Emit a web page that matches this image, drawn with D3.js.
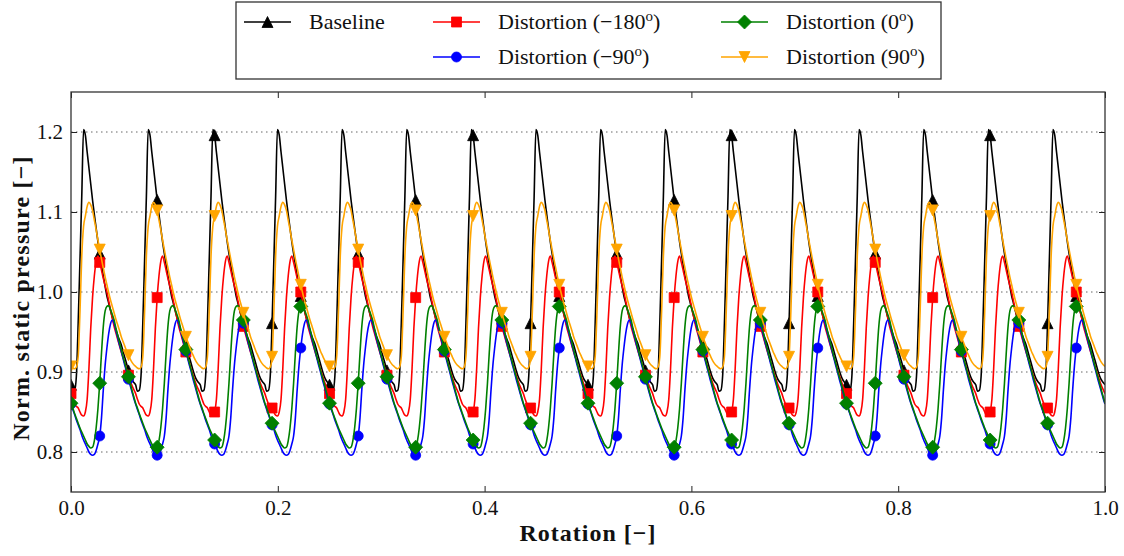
<!DOCTYPE html>
<html>
<head>
<meta charset="utf-8">
<script src="https://cdn.jsdelivr.net/npm/d3@7"></script>
<style>
  body { margin: 0; background: #fff; }
  text { font-family: "Liberation Serif", "DejaVu Serif", serif; fill: #111; }
</style>
</head>
<body>
<script>
// one blade passage (36 samples); 16 passages per rotation
var nPassages = 16;
var markEvery = 16;   // one marker every 1/36 rotation

var baselinePassage = [0.884, 0.876, 0.877, 0.895, 0.961, 1.040, 1.120, 1.203, 1.196, 1.175, 1.155, 1.135,
  1.115, 1.097, 1.080, 1.063, 1.048, 1.034, 1.020, 1.007, 0.995, 0.986, 0.977, 0.968,
  0.960, 0.953, 0.946, 0.940, 0.934, 0.926, 0.918, 0.910, 0.902, 0.895, 0.890, 0.887];
var m180Passage = [0.873, 0.866, 0.860, 0.857, 0.855, 0.850, 0.846, 0.845, 0.850, 0.866, 0.905, 0.955,
  0.993, 1.020, 1.038, 1.045, 1.037, 1.027, 1.017, 1.008, 1.000, 0.989, 0.978, 0.968,
  0.957, 0.949, 0.941, 0.933, 0.925, 0.918, 0.911, 0.903, 0.896, 0.889, 0.883, 0.878];
var m90Passage = [0.860, 0.853, 0.847, 0.840, 0.834, 0.828, 0.821, 0.815, 0.810, 0.805, 0.800, 0.797,
  0.796, 0.797, 0.802, 0.810, 0.820, 0.843, 0.878, 0.908, 0.930, 0.948, 0.960, 0.965,
  0.961, 0.952, 0.943, 0.934, 0.926, 0.917, 0.908, 0.900, 0.891, 0.883, 0.875, 0.867];
var p0Passage = [0.861, 0.855, 0.848, 0.842, 0.836, 0.830, 0.825, 0.820, 0.815, 0.810, 0.807, 0.805,
  0.806, 0.814, 0.830, 0.854, 0.886, 0.924, 0.957, 0.976, 0.982, 0.983, 0.978, 0.972,
  0.965, 0.955, 0.946, 0.937, 0.928, 0.919, 0.911, 0.902, 0.894, 0.886, 0.877, 0.869];
var p90Passage = [0.907, 0.905, 0.904, 0.906, 0.919, 0.975, 1.045, 1.082, 1.095, 1.107, 1.112, 1.109,
  1.102, 1.090, 1.078, 1.065, 1.053, 1.041, 1.030, 1.019, 1.009, 0.999, 0.990, 0.982,
  0.974, 0.966, 0.959, 0.952, 0.944, 0.938, 0.932, 0.926, 0.921, 0.916, 0.912, 0.909];

var xTicks = [0, 0.2, 0.4, 0.6, 0.8, 1.0];
var yTicks = [0.8, 0.9, 1.0, 1.1, 1.2];

var seriesList = [
  {name: "Baseline", deg: null, passage: baselinePassage, color: "#000000", marker: "triUp"},
  {name: "Distortion", deg: "\u2212180", passage: m180Passage, color: "#ff0000", marker: "square"},
  {name: "Distortion", deg: "\u221290", passage: m90Passage, color: "#0000ff", marker: "circle"},
  {name: "Distortion", deg: "0", passage: p0Passage, color: "#008000", marker: "diamond"},
  {name: "Distortion", deg: "90", passage: p90Passage, color: "#ffa500", marker: "triDown"}
];

var margin = {top: 92, right: 19, bottom: 64, left: 71},
  width = 1124 - margin.left - margin.right,
  height = 556 - margin.top - margin.bottom;

var x = d3.scaleLinear().domain([0, 1]).range([0, width]);
var y = d3.scaleLinear().domain([0.75, 1.25]).range([height, 0]);

function buildPoints(passage) {
  var n = passage.length, total = n * nPassages, pts = [];
  for (var i = 0; i <= total; i++) {
    pts.push({i: i, r: i / total, v: passage[i % n]});
  }
  return pts;
}

var markerPaths = {
  triUp: "M0,-5.5L5.5,5.5L-5.5,5.5Z",
  triDown: "M0,5.5L5.5,-5.5L-5.5,-5.5Z",
  square: "M-5,-5L5,-5L5,5L-5,5Z",
  diamond: "M0,-7L7,0L0,7L-7,0Z",
  circle: d3.symbol().type(d3.symbolCircle).size(Math.PI * 25)()
};

var svg = d3.select("body").append("svg")
  .attr("width", 1124)
  .attr("height", 556);

var g = svg.append("g")
  .attr("transform", "translate(" + margin.left + "," + margin.top + ")");

g.append("clipPath").attr("id", "plotClip")
  .append("rect").attr("width", width).attr("height", height);

// dotted horizontal grid
g.selectAll(".grid").data(yTicks).enter().append("line")
  .attr("x1", 0).attr("x2", width)
  .attr("y1", function (d) { return y(d); })
  .attr("y2", function (d) { return y(d); })
  .style("stroke", "#666")
  .style("stroke-width", 1)
  .style("stroke-dasharray", "1.5,3.5");

var line = d3.line()
  .x(function (d) { return x(d.r); })
  .y(function (d) { return y(d.v); })
  .curve(d3.curveMonotoneX);

var plot = g.append("g").attr("clip-path", "url(#plotClip)");

seriesList.forEach(function (s) {
  var pts = buildPoints(s.passage);
  plot.append("path")
    .datum(pts)
    .attr("d", line)
    .style("fill", "none")
    .style("stroke", s.color)
    .style("stroke-width", 1.6);
  plot.selectAll(null)
    .data(pts.filter(function (d) { return d.i % markEvery === 0 && d.r < 1; }))
    .enter().append("path")
    .attr("d", markerPaths[s.marker])
    .attr("transform", function (d) { return "translate(" + x(d.r) + "," + y(d.v) + ")"; })
    .style("fill", s.color)
    .style("stroke", s.color)
    .style("stroke-width", 0.8);
});

// axes, ticks pointing inwards on all four sides
var fmt = d3.format(".1f");
var xAxis = d3.axisBottom(x).tickValues(xTicks).tickFormat(fmt).tickSize(-6).tickPadding(8);
var yAxis = d3.axisLeft(y).tickValues(yTicks).tickFormat(fmt).tickSize(-6).tickPadding(8);

var gx = g.append("g").attr("transform", "translate(0," + height + ")").call(xAxis);
var gy = g.append("g").call(yAxis);
g.append("g").call(d3.axisTop(x).tickValues(xTicks).tickFormat("").tickSize(-6));
g.append("g").attr("transform", "translate(" + width + ",0)")
  .call(d3.axisRight(y).tickValues(yTicks).tickFormat("").tickSize(-6));

g.selectAll(".domain").remove();
g.selectAll(".tick line").style("stroke", "#222");
g.selectAll(".tick text")
  .style("font-family", "Liberation Serif, serif")
  .style("font-size", "21px")
  .style("fill", "#111");

g.append("rect")
  .attr("width", width).attr("height", height)
  .style("fill", "none")
  .style("stroke", "#333")
  .style("stroke-width", 1.3);

// axis titles
svg.append("text")
  .attr("x", margin.left + width / 2)
  .attr("y", 541)
  .attr("text-anchor", "middle")
  .style("font-size", "24px")
  .style("font-weight", "bold")
  .style("letter-spacing", "1px")
  .text("Rotation [\u2212]");

svg.append("text")
  .attr("transform", "translate(29," + (margin.top + height / 2 + 6) + ") rotate(-90)")
  .attr("text-anchor", "middle")
  .style("font-size", "24px")
  .style("font-weight", "bold")
  .style("letter-spacing", "1.2px")
  .text("Norm. static pressure [\u2212]");

// legend
var legend = svg.append("g");
legend.append("rect")
  .attr("x", 236).attr("y", 2).attr("width", 705).attr("height", 77)
  .style("fill", "#fff")
  .style("stroke", "#333")
  .style("stroke-width", 1.3);

var legendPos = [
  {x: 244, y: 22}, {x: 433, y: 22}, {x: 433, y: 57}, {x: 721, y: 22}, {x: 721, y: 57}
];

seriesList.forEach(function (s, i) {
  var p = legendPos[i];
  var item = legend.append("g").attr("transform", "translate(" + p.x + "," + p.y + ")");
  item.append("line").attr("x1", 0).attr("x2", 47).attr("y1", 0).attr("y2", 0)
    .style("stroke", s.color).style("stroke-width", 1.6);
  item.append("path").attr("d", markerPaths[s.marker])
    .attr("transform", "translate(23.5,0)")
    .style("fill", s.color).style("stroke", s.color).style("stroke-width", 0.8);
  var t = item.append("text").attr("x", 65).attr("y", 7).style("font-size", "22px");
  if (s.deg === null) {
    t.text(s.name);
  } else {
    t.append("tspan").text(s.name + " (" + s.deg);
    t.append("tspan").attr("dy", -8).style("font-size", "15px").text("o");
    t.append("tspan").attr("dy", 8).text(")");
  }
});
</script>
</body>
</html>
